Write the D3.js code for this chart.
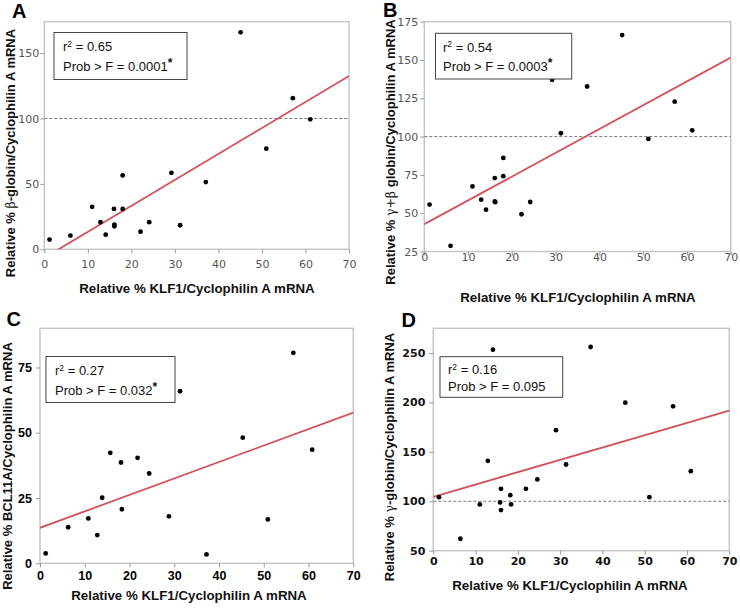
<!DOCTYPE html>
<html><head><meta charset="utf-8">
<script src="https://cdn.jsdelivr.net/npm/d3@7"></script>
<style>body{margin:0;background:#fff}svg{display:block}</style>
</head><body>
<svg id="chart" width="740" height="608"></svg>
<script>
// ---------- data ----------
const xTicks = [0, 10, 20, 30, 40, 50, 60, 70];

const klfA  = [1.2, 6.0, 11.0, 12.9, 14.1, 16.0, 16.1, 16.1, 18.0, 18.0, 22.1, 24.1, 29.2, 31.2, 37.1, 45.1, 51.0, 57.1, 61.1];
const betaA = [7.4, 10.5, 32.5, 20.7, 11.2, 30.9, 18.9, 17.6, 56.5, 30.9, 13.5, 20.7, 58.5, 18.4, 51.4, 165.9, 76.9, 115.5, 99.4];
const fitA  = [-6.5, 1.985];           // intercept, slope
const yTicksA = [0, 50, 100, 150];
const statsA = ["0.65", "0.0001", true];

const klfB = [1.2, 6.0, 11.0, 13.0, 14.1, 16.1, 16.1, 16.2, 18.05, 18.05, 22.2, 24.2, 29.2, 31.2, 37.2, 45.2, 51.2, 57.2, 61.2];
const gbB  = [55.6, 28.7, 67.5, 58.8, 52.3, 72.9, 57.7, 57.2, 86.1, 74.2, 49.3, 57.3, 137.1, 102.2, 132.7, 166.3, 98.5, 122.8, 104.1];
const fitB = [42.8, 1.554];
const yTicksB = [25, 50, 75, 100, 125, 150, 175];
const statsB = ["0.54", "0.0003", true];

const klfC = [1.27, 6.3, 10.8, 12.8, 13.9, 15.7, 18.1, 18.3, 21.8, 24.4, 28.8, 31.3, 37.2, 45.3, 50.9, 56.6, 60.8];
const bclC = [3.8, 13.8, 17.2, 10.8, 25.1, 42.3, 38.6, 20.7, 40.4, 34.4, 18.0, 65.9, 3.4, 48.1, 16.8, 80.6, 43.5];
const fitC = [13.6, 0.63];
const yTicksC = [0, 25, 50, 75];
const statsC = ["0.27", "0.032", true];

const klfD   = [1.34, 6.4, 11.0, 12.9, 14.1, 16.0, 15.8, 16.0, 18.2, 18.4, 21.9, 24.6, 29.0, 31.4, 37.2, 45.4, 51.1, 56.7, 60.9];
const gammaD = [104.2, 62.1, 96.8, 140.9, 253.4, 112.6, 98.8, 91.1, 106.2, 96.8, 112.6, 122.1, 171.9, 137.2, 256.1, 199.8, 104.2, 196.1, 130.5];
const fitD = [104.5, 1.247];
const yTicksD = [50, 100, 150, 200, 250];
const statsD = ["0.16", "0.095", false];

const xTitle = "Relative % KLF1/Cyclophilin A mRNA";
const yTitleA = [["Relative % ", 0], ["β", 1], ["-globin/Cyclophilin A mRNA", 0]];
const yTitleB = [["Relative % ", 0], ["γ+β", 1], [" globin/Cyclophilin A mRNA", 0]];
const yTitleC = [["Relative % BCL11A/Cyclophilin A mRNA", 0]];
const yTitleD = [["Relative % ", 0], ["γ", 1], ["-globin/Cyclophilin A mRNA", 0]];

// ---------- layout ----------
const tickStyles = {
  light: {family: "'DejaVu Sans', Verdana, sans-serif", size: 11, weight: "normal", fill: "#555"},
  boldC: {family: "'Liberation Sans', Arial, sans-serif", size: 12.5, weight: "bold", fill: "#000"},
  boldD: {family: "'DejaVu Sans', Verdana, sans-serif", size: 11, weight: "bold", fill: "#111"}
};

const panels = [
  {id: "A", xs: klfA, ys: betaA, fit: fitA, yTicks: yTicksA, yDom: [0, 174], stats: statsA, yTitle: yTitleA, ref: 100,
   L: 44.3, R: 349, T: 21.7, B: 249.3, ts: "light", xLabOff: 19, yLabGap: 5,
   lab: [12, 18], box: [54, 32.5, 187, 79.5], tx: 63, tb: [51, 71],
   xtX: 197, xtY: 292.5, ytX: 15, ytY: 153},
  {id: "B", xs: klfB, ys: gbB, fit: fitB, yTicks: yTicksB, yDom: [25, 175], stats: statsB, yTitle: yTitleB, ref: 100,
   L: 424.3, R: 730.7, T: 21.7, B: 251.5, ts: "light", xLabOff: 9.5, yLabGap: 6,
   lab: [383, 17], box: [435.5, 33.3, 571.7, 79], tx: 443, tb: [51.5, 70.5],
   xtX: 578, xtY: 302, ytX: 394.5, ytY: 152},
  {id: "C", xs: klfC, ys: bclC, fit: fitC, yTicks: yTicksC, yDom: [0, 90], stats: statsC, yTitle: yTitleC, ref: null,
   L: 40, R: 353.3, T: 328.3, B: 563.3, ts: "boldC", xLabOff: 16.7, yLabGap: 8,
   lab: [6.5, 325.7], box: [46, 356.5, 175, 402.5], tx: 55, tb: [375, 394.5],
   xtX: 189, xtY: 600, ytX: 11.5, ytY: 466},
  {id: "D", xs: klfD, ys: gammaD, fit: fitD, yTicks: yTicksD, yDom: [50, 275], stats: statsD, yTitle: yTitleD, ref: 100,
   L: 433.3, R: 729.3, T: 328.3, B: 550.7, ts: "boldD", xLabOff: 14.3, yLabGap: 8,
   lab: [401.5, 326.7], box: [440, 356.7, 562.7, 397.3], tx: 448, tb: [374, 391],
   xtX: 570, xtY: 590, ytX: 394, ytY: 457}
];

const svg = d3.select("#chart");
const arial = "'Liberation Sans', Arial, Helvetica, sans-serif";

panels.forEach((p, i) => {
  const x = d3.scaleLinear().domain([0, 70]).range([p.L, p.R]);
  const y = d3.scaleLinear().domain(p.yDom).range([p.B, p.T]);
  const st = tickStyles[p.ts];
  const g = svg.append("g");

  const cid = "clip" + p.id;
  svg.append("clipPath").attr("id", cid).append("rect")
    .attr("x", p.L).attr("y", p.T).attr("width", p.R - p.L).attr("height", p.B - p.T);

  g.append("rect").attr("x", p.L).attr("y", p.T).attr("width", p.R - p.L).attr("height", p.B - p.T)
    .attr("fill", "none").attr("stroke", "#c4c4c4").attr("stroke-width", 1.4);

  const xa = g.append("g").attr("transform", `translate(0,${p.B})`)
    .call(d3.axisBottom(x).tickValues(xTicks).tickSize(4).tickFormat(d3.format("d")));
  xa.select(".domain").remove();
  xa.selectAll("line").attr("stroke", "#999");
  xa.selectAll("text").attr("font-family", st.family).attr("font-size", st.size)
    .attr("font-weight", st.weight).attr("fill", st.fill)
    .attr("dy", null).attr("y", p.xLabOff);

  const ya = g.append("g").attr("transform", `translate(${p.L},0)`)
    .call(d3.axisLeft(y).tickValues(p.yTicks).tickSize(4).tickPadding(p.yLabGap - 4).tickFormat(d3.format("d")));
  ya.select(".domain").remove();
  ya.selectAll("line").attr("stroke", "#999");
  ya.selectAll("text").attr("font-family", st.family).attr("font-size", st.size)
    .attr("font-weight", st.weight).attr("fill", st.fill);

  const plot = g.append("g").attr("clip-path", `url(#${cid})`);

  if (p.ref !== null) {
    plot.append("line").attr("x1", p.L).attr("x2", p.R).attr("y1", y(p.ref)).attr("y2", y(p.ref))
      .attr("stroke", "#777").attr("stroke-width", 1).attr("stroke-dasharray", "3,2");
  }

  const fx = [0, 70];
  plot.append("line")
    .attr("x1", x(fx[0])).attr("y1", y(p.fit[0] + p.fit[1] * fx[0]))
    .attr("x2", x(fx[1])).attr("y2", y(p.fit[0] + p.fit[1] * fx[1]))
    .attr("stroke", "#d2525c").attr("stroke-width", 1.8);

  g.append("g").selectAll("circle").data(p.xs.map((v, k) => [v, p.ys[k]])).join("circle")
    .attr("cx", d => x(d[0])).attr("cy", d => y(d[1])).attr("r", 2.4).attr("fill", "#000");

  const [bx0, by0, bx1, by1] = p.box;
  g.append("rect").attr("x", bx0).attr("y", by0).attr("width", bx1 - bx0).attr("height", by1 - by0)
    .attr("fill", "#fff").attr("stroke", "#444").attr("stroke-width", 1);
  const t1 = g.append("text").attr("x", p.tx).attr("y", p.tb[0]).attr("font-family", arial).attr("font-size", 13).attr("fill", "#111");
  t1.append("tspan").text("r");
  t1.append("tspan").text("2").attr("font-size", 8.5).attr("dy", -4.5);
  t1.append("tspan").text(" = " + p.stats[0]).attr("dy", 4.5);
  const t2 = g.append("text").attr("x", p.tx).attr("y", p.tb[1]).attr("font-family", arial).attr("font-size", 13).attr("fill", "#111");
  t2.append("tspan").text("Prob > F = " + p.stats[1]);
  if (p.stats[2]) t2.append("tspan").text("*").attr("font-weight", "bold").attr("font-size", 12).attr("dy", -4);

  g.append("text").attr("x", p.xtX).attr("y", p.xtY).attr("text-anchor", "middle")
    .attr("font-family", arial).attr("font-weight", "bold").attr("font-size", 13.3).attr("fill", "#111").text(xTitle);
  const yt = g.append("text").attr("transform", `translate(${p.ytX},${p.ytY}) rotate(-90)`).attr("text-anchor", "middle")
    .attr("font-family", arial).attr("font-weight", "bold").attr("font-size", 13).attr("fill", "#111");
  p.yTitle.forEach(([s, greek]) => {
    const ts = yt.append("tspan").text(s);
    if (greek) ts.attr("font-weight", "normal").attr("font-family", "'DejaVu Serif', 'Liberation Serif', serif").attr("font-size", 12.5);
  });

  g.append("text").attr("x", p.lab[0]).attr("y", p.lab[1]).attr("font-family", arial)
    .attr("font-weight", "bold").attr("font-size", 20).attr("fill", "#000").text(p.id);
});
</script>
</body></html>
